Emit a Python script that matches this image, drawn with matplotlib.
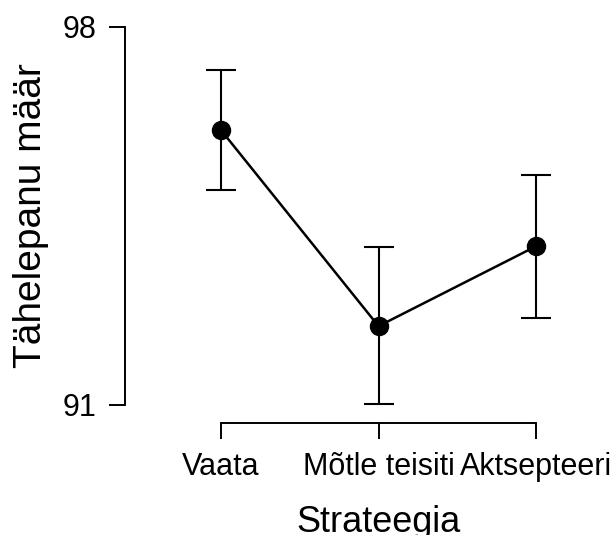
import matplotlib
matplotlib.use("Agg")
import matplotlib.pyplot as plt

strategies = ["Vaata", "Mõtle teisiti", "Aktsepteeri"]
means = [96.09, 92.46, 93.94]
upper = [97.20, 93.93, 95.26]
lower = [94.98, 91.02, 92.61]

plt.rcParams["font.family"] = ["Liberation Sans", "DejaVu Sans"]

fig = plt.figure(figsize=(6.14, 5.35), dpi=100)
ax = fig.add_axes([125 / 614, (535 - 405) / 535, 475 / 614, 378 / 535])

x = list(range(len(strategies)))
err = [[m - l for m, l in zip(means, lower)], [u - m for u, m in zip(upper, means)]]
ax.errorbar(x, means, yerr=err, fmt="none", ecolor="black", elinewidth=1.5,
            capsize=11, capthick=1.5, clip_on=False, zorder=2)
ax.plot(x, means, color="black", lw=1.8, marker="o", markersize=13, clip_on=False, zorder=3)

ax.set_xlim(-0.6095, 2.406)
ax.set_ylim(91, 98)
ax.set_yticks([91, 98])
ax.set_xticks(x)
ax.set_xticklabels(strategies)

for s in ["top", "right"]:
    ax.spines[s].set_visible(False)
ax.spines["left"].set_bounds(91, 98)
ax.spines["bottom"].set_bounds(0, 2)
ax.spines["bottom"].set_position(("outward", 13))
for s in ["left", "bottom"]:
    ax.spines[s].set_linewidth(1.4)

ax.tick_params(axis="both", length=11.5, width=1.4, labelsize=22, pad=9)

# x label centred on the bounded spine, not the full axes
ax.set_xlabel("Strateegia", fontsize=26)
ax.xaxis.set_label_coords(0.533, -0.265)
ax.set_ylabel("Tähelepanu määr", fontsize=28, labelpad=10)

fig.savefig("out.png", dpi=100)
